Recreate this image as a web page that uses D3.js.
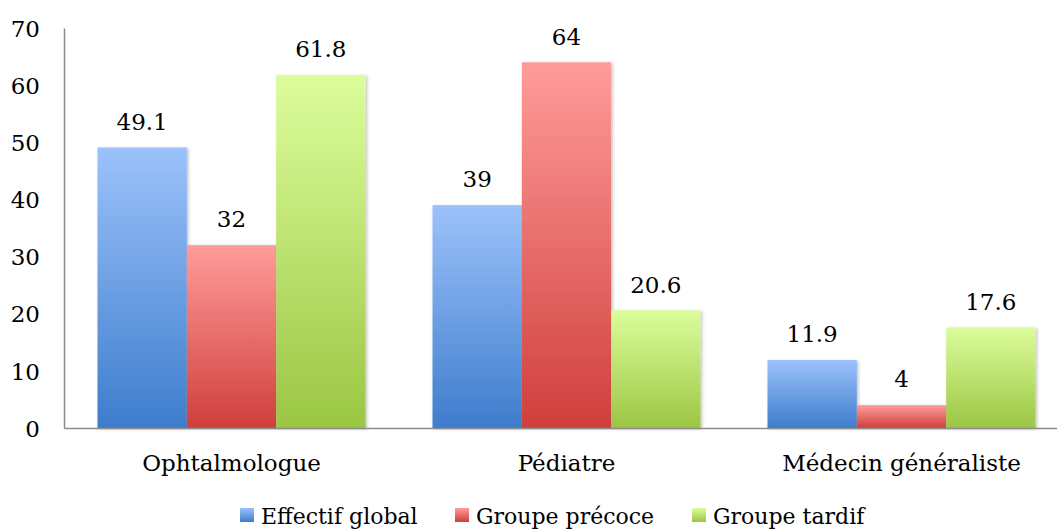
<!DOCTYPE html>
<html>
<head>
<meta charset="utf-8">
<script src="https://cdn.jsdelivr.net/npm/d3@7"></script>
<style>
  body { margin: 0; background: #fff; }
  svg { display: block; }
  text { font-family: "DejaVu Serif", "Liberation Serif", serif; fill: #000; }
</style>
</head>
<body>
<svg id="chart" width="1057" height="529"></svg>
<script>
const categories = ["Ophtalmologue", "Pédiatre", "Médecin généraliste"];
const seriesNames = ["Effectif global", "Groupe précoce", "Groupe tardif"];
const effectifGlobal = [49.1, 39, 11.9];
const groupePrecoce = [32, 64, 4];
const groupeTardif = [61.8, 20.6, 17.6];
const yTicks = [0, 10, 20, 30, 40, 50, 60, 70];

const seriesValues = [effectifGlobal, groupePrecoce, groupeTardif];
const gradients = [
  { id: "g-blue", top: "#9cc2fb", bottom: "#3d7dcc" },
  { id: "g-red", top: "#ff9c9a", bottom: "#cf3f3c" },
  { id: "g-green", top: "#dcfd9c", bottom: "#9bc643" }
];

const svg = d3.select("#chart");
const margin = { left: 64, top: 28, bottom: 101 };
const plotW = 1005;
const height = 529;

const x0 = d3.scaleBand().domain(categories).range([margin.left, margin.left + plotW]).padding(0);
// each group of bars fills the middle 80% of its category band
const x1 = d3.scaleBand().domain(seriesNames)
  .range([x0.bandwidth() * 0.1, x0.bandwidth() * 0.9]).padding(0);
const y = d3.scaleLinear().domain([0, 70]).range([height - margin.bottom, margin.top]);

const defs = svg.append("defs");
gradients.forEach(g => {
  const lg = defs.append("linearGradient").attr("id", g.id)
    .attr("x1", 0).attr("y1", 0).attr("x2", 0).attr("y2", 1);
  lg.append("stop").attr("offset", "0%").attr("stop-color", g.top);
  lg.append("stop").attr("offset", "100%").attr("stop-color", g.bottom);
});
const f = defs.append("filter").attr("id", "shadow").attr("x", "-10%").attr("y", "-10%").attr("width", "130%").attr("height", "130%");
f.append("feDropShadow").attr("dx", 1.5).attr("dy", 1).attr("stdDeviation", 1.5).attr("flood-color", "#000").attr("flood-opacity", 0.25);

// y axis
const yAxis = svg.append("g").attr("transform", `translate(${margin.left},0)`)
  .call(d3.axisLeft(y).tickValues(yTicks).tickSize(0).tickPadding(24));
yAxis.select(".domain").attr("stroke", "#8c8c8c").attr("stroke-width", 1.5);
yAxis.selectAll("text").style("font-size", "23px").attr("dy", "0.36em")
  .style("font-family", '"DejaVu Serif", serif');

// bars and value labels
categories.forEach((cat, ci) => {
  seriesNames.forEach((s, si) => {
    const v = seriesValues[si][ci];
    const bx = x0(cat) + x1(s);
    svg.append("rect")
      .attr("x", bx).attr("y", y(v))
      .attr("width", x1.bandwidth()).attr("height", y(0) - y(v))
      .attr("fill", `url(#${gradients[si].id})`)
      .attr("filter", "url(#shadow)");
    svg.append("text")
      .attr("x", bx + x1.bandwidth() / 2).attr("y", y(v) - 26)
      .attr("dy", "0.36em")
      .attr("text-anchor", "middle")
      .style("font-size", "23px")
      .text(v);
  });
});

// x axis
const xAxis = svg.append("g").attr("transform", `translate(0,${y(0)})`)
  .call(d3.axisBottom(x0).tickSize(0).tickPadding(35));
xAxis.select(".domain").attr("stroke", "#8c8c8c").attr("stroke-width", 1.5);
xAxis.selectAll("text").style("font-size", "23px").attr("dy", "0.36em")
  .style("font-family", '"DejaVu Serif", serif');

// legend
const legendX = [240, 455, 692];
const lg = svg.append("g");
seriesNames.forEach((s, i) => {
  const g = lg.append("g").attr("transform", `translate(${legendX[i]},508)`);
  g.append("rect").attr("width", 14).attr("height", 14).attr("fill", `url(#${gradients[i].id})`);
  g.append("text").attr("x", 21).attr("y", 8).attr("dy", "0.36em")
    .style("font-size", "22px").text(s);
});
</script>
</body>
</html>
